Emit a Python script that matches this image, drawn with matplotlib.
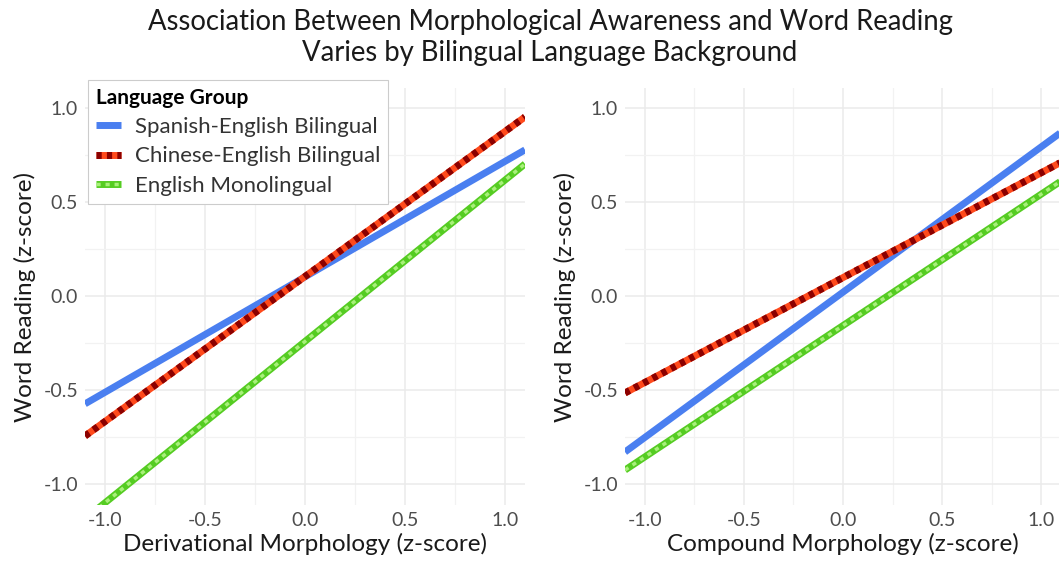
import matplotlib
matplotlib.use("Agg")
import matplotlib.pyplot as plt
from matplotlib.lines import Line2D
from matplotlib.ticker import MultipleLocator

plt.rcParams['font.family'] = ['Lato', 'DejaVu Sans']

# ---- data (line endpoints) ----
x_range = [-1.1, 1.1]
groups = ["Spanish-English Bilingual", "Chinese-English Bilingual", "English Monolingual"]
deriv_spanish = [-0.574, 0.777]
deriv_chinese = [-0.745, 0.952]
deriv_english = [-1.186, 0.702]
comp_spanish = [-0.83, 0.87]
comp_chinese = [-0.516, 0.711]
comp_english = [-0.926, 0.611]

x_ticks = [-1.0, -0.5, 0.0, 0.5, 1.0]
y_ticks = [-1.0, -0.5, 0.0, 0.5, 1.0]
tick_labels = ["-1.0", "-0.5", "0.0", "0.5", "1.0"]

W, H = 1059, 564
fig = plt.figure(figsize=(W / 100, H / 100), dpi=100)

ax_bottom = (H - 505) / H
ax_height = (505 - 88) / H
ax1 = fig.add_axes([85 / W, ax_bottom, 440 / W, ax_height])
ax2 = fig.add_axes([625 / W, ax_bottom, 436 / W, ax_height])

LW = 5.0
blue = "#4A7FF0"
red_base = "#FF4A1C"
red_dot = "#8B0000"
green_base = "#55CC22"
green_dot = "#A8F07A"


def draw(ax, sp, ch, en):
    ax.plot(x_range, en, color=green_base, lw=LW, solid_capstyle='butt', zorder=3)
    ax.plot(x_range, en, color=green_dot, lw=LW * 0.5, dashes=(1.2, 1.4),
            dash_capstyle='butt', zorder=4)
    ax.plot(x_range, sp, color=blue, lw=LW, solid_capstyle='butt', zorder=5)
    ax.plot(x_range, ch, color=red_base, lw=LW, solid_capstyle='butt', zorder=6)
    ax.plot(x_range, ch, color=red_dot, lw=LW, dashes=(0.75, 0.75),
            dash_capstyle='butt', zorder=7)


def style(ax, xlabel):
    ax.set_xlim(-1.1, 1.1)
    ax.set_ylim(-1.112, 1.106)
    ax.set_xticks(x_ticks)
    ax.set_xticklabels(tick_labels)
    ax.set_yticks(y_ticks)
    ax.set_yticklabels(tick_labels)
    ax.xaxis.set_minor_locator(MultipleLocator(0.25))
    ax.yaxis.set_minor_locator(MultipleLocator(0.25))
    ax.grid(which='major', color='#EBEBEB', lw=1.1, zorder=0)
    ax.grid(which='minor', color='#F2F2F2', lw=0.9, zorder=0)
    ax.tick_params(which='both', length=0, labelsize=14, labelcolor='#4D4D4D', pad=5)
    for s in ax.spines.values():
        s.set_visible(False)
    ax.set_xlabel(xlabel, fontsize=17.5, color='#1A1A1A', labelpad=3)
    ax.set_ylabel("Word Reading (z-score)", fontsize=17.5, color='#1A1A1A', labelpad=5)
    ax.set_axisbelow(True)


draw(ax1, deriv_spanish, deriv_chinese, deriv_english)
draw(ax2, comp_spanish, comp_chinese, comp_english)
style(ax1, "Derivational Morphology (z-score)")
style(ax2, "Compound Morphology (z-score)")

fig.suptitle("Association Between Morphological Awareness and Word Reading\n"
             "Varies by Bilingual Language Background",
             x=550 / W, y=1 - 9 / H, va='top', fontsize=19.8, color='#1A1A1A',
             linespacing=1.25)

h_sp = Line2D([], [], color=blue, lw=LW, solid_capstyle='butt')
h_ch = (Line2D([], [], color=red_base, lw=LW, solid_capstyle='butt'),
        Line2D([], [], color=red_dot, lw=LW, dashes=(0.75, 0.75), dash_capstyle='butt'))
h_en = (Line2D([], [], color=green_base, lw=LW, solid_capstyle='butt'),
        Line2D([], [], color=green_dot, lw=LW * 0.5, dashes=(1.2, 1.4), dash_capstyle='butt'))

leg = ax1.legend([h_sp, h_ch, h_en], groups, title="Language Group",
                 loc='upper left', bbox_to_anchor=(88 / W, 1 - 80 / H),
                 bbox_transform=fig.transFigure, borderaxespad=0,
                 fontsize=16, title_fontsize=15, handlelength=1.15,
                 handletextpad=0.6, labelspacing=0.42, borderpad=0.35,
                 fancybox=False, framealpha=1, edgecolor='#CCCCCC',
                 alignment='left')
leg.get_title().set_fontweight('bold')
leg.get_frame().set_linewidth(0.8)
for t in leg.get_texts():
    t.set_color('#333333')
leg.set_zorder(10)

fig.savefig("out.png", dpi=100, facecolor='white')
